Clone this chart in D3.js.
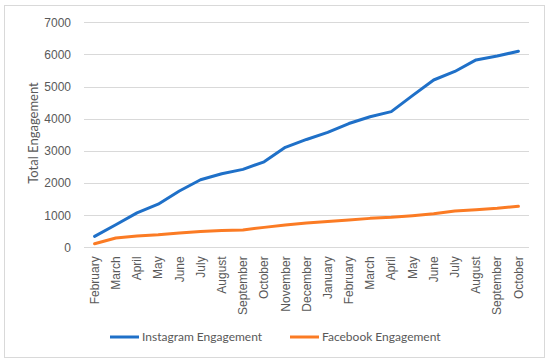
<!DOCTYPE html>
<html>
<head>
<meta charset="utf-8">
<script src="https://cdn.jsdelivr.net/npm/d3@7"></script>
<style>
  body { margin: 0; background: #fff; }
  svg { display: block; font-family: Lato, "Open Sans", sans-serif; }
  .axis text { fill: #595959; font-size: 12px; }
  .axis path, .axis line { display: none; }
  .grid line { stroke: #d9d9d9; stroke-width: 1; }
</style>
</head>
<body>
<div id="chart"></div>
<script>
// Data
const months = ['February', 'March', 'April', 'May', 'June', 'July', 'August', 'September',
  'October', 'November', 'December', 'January', 'February', 'March', 'April', 'May',
  'June', 'July', 'August', 'September', 'October'];
const instagram = [340, 700, 1070, 1340, 1750, 2100, 2290, 2425, 2660, 3110, 3355,
  3575, 3850, 4060, 4220, 4720, 5205, 5470, 5830, 5950, 6100];
const facebook = [110, 290, 350, 390, 445, 495, 525, 540, 620, 695, 755,
  800, 850, 900, 935, 985, 1045, 1130, 1172, 1214, 1276];
const yTicks = [0, 1000, 2000, 3000, 4000, 5000, 6000, 7000];
const seriesNames = ['Instagram Engagement', 'Facebook Engagement'];
const colors = ['#1f70c8', '#fb7b24'];

const W = 550, H = 363;
const plot = { left: 84, right: 529, top: 22.3, bottom: 247.3 };

const svg = d3.select('#chart').append('svg')
  .attr('width', W)
  .attr('height', H);

// outer border
svg.append('rect')
  .attr('x', 4.5).attr('y', 5.5)
  .attr('width', 540).attr('height', 352)
  .attr('fill', '#fff')
  .attr('stroke', '#d9d9d9');

const x = d3.scaleBand()
  .domain(d3.range(months.length))
  .range([plot.left, plot.right]);

const y = d3.scaleLinear()
  .domain([0, 7000])
  .range([plot.bottom, plot.top]);

// gridlines
svg.append('g')
  .attr('class', 'grid')
  .selectAll('line')
  .data(yTicks)
  .enter()
  .append('line')
  .attr('x1', plot.left)
  .attr('x2', plot.right)
  .attr('y1', d => Math.round(y(d)) + 0.5)
  .attr('y2', d => Math.round(y(d)) + 0.5);

// y axis
svg.append('g')
  .attr('class', 'axis y-axis')
  .attr('transform', `translate(${plot.left - 6}, 0)`)
  .call(d3.axisLeft(y).tickValues(yTicks).tickFormat(d3.format('d')).tickSize(0).tickPadding(7));

// x axis
svg.append('g')
  .attr('class', 'axis x-axis')
  .attr('transform', `translate(0, ${plot.bottom})`)
  .call(d3.axisBottom(x).tickFormat(i => months[i]).tickSize(0))
  .selectAll('text')
    .style('text-anchor', 'end')
    .attr('transform', 'rotate(-90)')
    .attr('x', -9)
    .attr('y', 0)
    .attr('dy', '0.35em');

// y axis title
svg.append('text')
  .attr('transform', 'rotate(-90)')
  .attr('x', -133)
  .attr('y', 38)
  .attr('text-anchor', 'middle')
  .style('font-size', '13px')
  .style('fill', '#595959')
  .text('Total Engagement');

// lines
const line = d3.line()
  .x((d, i) => x(i) + x.bandwidth() / 2)
  .y(d => y(d));

[instagram, facebook].forEach((series, k) => {
  svg.append('path')
    .datum(series)
    .attr('fill', 'none')
    .attr('stroke', colors[k])
    .attr('stroke-width', 3)
    .attr('stroke-linejoin', 'round')
    .attr('stroke-linecap', 'round')
    .attr('d', line);
});

// legend
const legendX = [110, 290];
seriesNames.forEach((name, k) => {
  const g = svg.append('g').attr('transform', `translate(${legendX[k]}, 337)`);
  g.append('line')
    .attr('x1', 0).attr('x2', 29)
    .attr('stroke', colors[k])
    .attr('stroke-width', 3);
  g.append('text')
    .attr('x', 32)
    .attr('dy', '0.35em')
    .style('font-size', '12px')
    .style('fill', '#595959')
    .text(name);
});
</script>
</body>
</html>
